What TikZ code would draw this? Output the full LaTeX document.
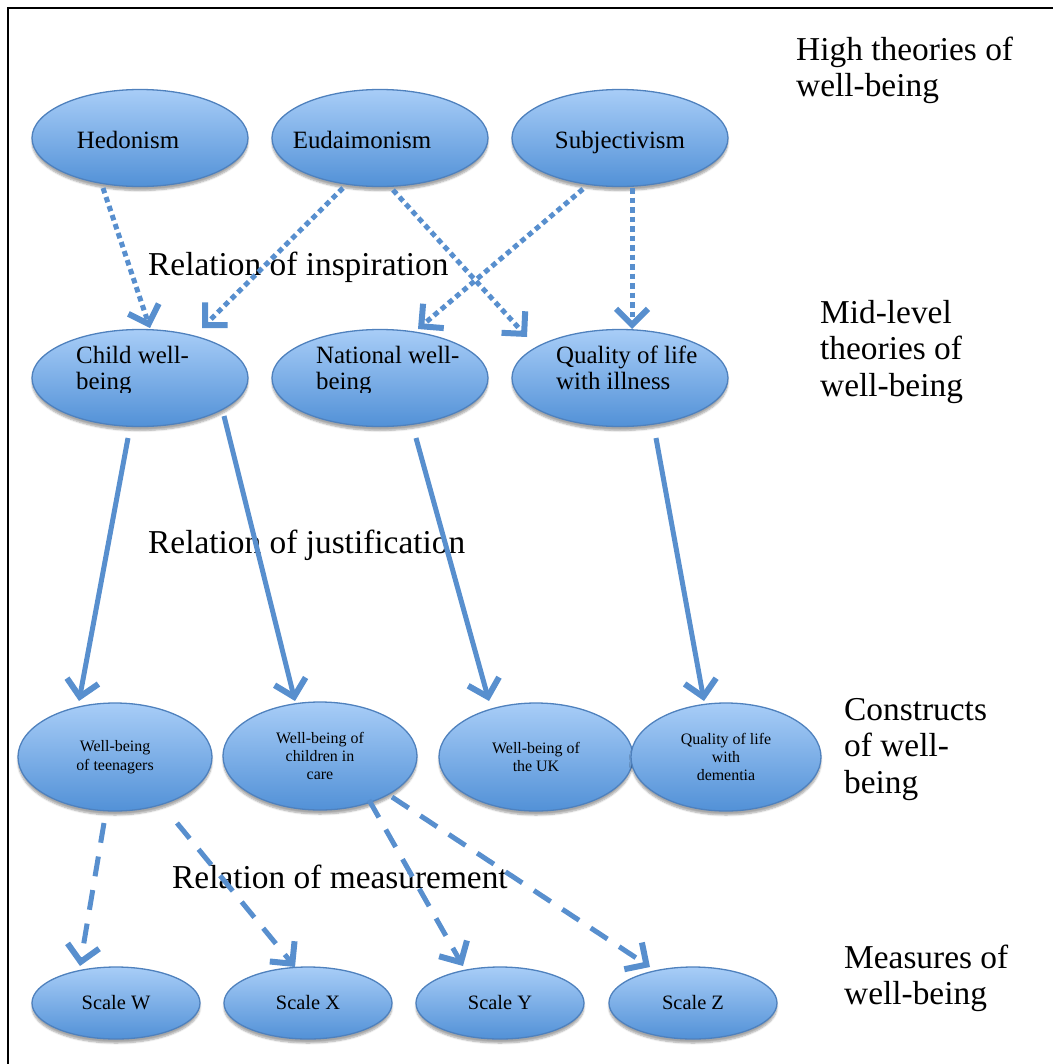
\documentclass[tikz,border=0pt]{standalone}
\usepackage{fontspec}
\setmainfont{Liberation Serif}
\usetikzlibrary{arrows.meta,calc,shapes.geometric,shadows.blur}
\definecolor{arr}{RGB}{88,143,206}
\definecolor{elltop}{RGB}{168,205,247}
\definecolor{ellbot}{RGB}{82,145,215}
\definecolor{elldraw}{RGB}{79,129,189}
\tikzset{
  bubble/.style={ellipse, draw=elldraw, line width=1.3bp, top color=elltop, bottom color=ellbot,
    inner sep=0pt, outer sep=0pt,
    blur shadow={shadow xshift=0bp, shadow yshift=-4bp, shadow opacity=35, shadow blur steps=6}},
  theory/.style={bubble, minimum width=216bp, minimum height=97bp},
  construct/.style={bubble, minimum width=194bp, minimum height=108bp, align=center,
    font=\fontsize{16}{18.5}\selectfont},
  scalebox/.style={bubble, minimum width=168bp, minimum height=72bp, font=\fontsize{20.5}{24}\selectfont},
  ntext/.style={inner sep=0pt, font=\fontsize{25}{27}\selectfont},
  lab/.style={inner sep=0pt, anchor=base west, font=\fontsize{33.5}{37}\selectfont},
  conn/.style={draw=arr, line width=5bp, -{Straight Barb[length=16bp,width=32bp,line width=6bp 0]}},
  dotconn/.style={conn, dash pattern=on 5.5bp off 4bp},
  solidconn/.style={conn},
  dashconn/.style={conn, dash pattern=on 20bp off 14bp},
}
\begin{document}
\begin{tikzpicture}[x=1bp,y=-1bp]
\useasboundingbox (0,0) rectangle (1053,1064);
\draw[line width=2.5bp] (8,1064) -- (8,8) -- (1053,8);

% high theories
\node[theory] (hed) at (140,138) {};
\node[theory] (eud) at (380,138) {};
\node[theory] (subj) at (620,138) {};
\node[ntext, anchor=base] (hedT) at (128,148) {Hedonism};
\node[ntext, anchor=base] (eudT) at (362,148) {Eudaimonism};
\node[ntext, anchor=base] (subjT) at (620,148) {Subjectivism};

% mid-level theories
\node[theory] (child) at (140,378) {};
\node[theory] (nat) at (380,378) {};
\node[theory] (qual) at (620,378) {};
\begin{scope}
\clip (0,300) rectangle (1053,392);
\node[ntext, anchor=base west] (childT) at (76,363) {\begin{tabular}[t]{@{}l@{}}Child well-\\being\end{tabular}};
\node[ntext, anchor=base west] (natT) at (316,363) {\begin{tabular}[t]{@{}l@{}}National well-\\being\end{tabular}};
\node[ntext, anchor=base west] (qualT) at (556,363) {\begin{tabular}[t]{@{}l@{}}Quality of life\\with illness\end{tabular}};
\end{scope}

% constructs
\node[construct] (teen) at (115,757) {Well-being\\of teenagers};
\node[construct] (care) at (320,756) {Well-being of\\children in\\care};
\node[construct] (uk) at (536,757) {Well-being of\\the UK};
\node[construct, minimum width=190bp] (dem) at (726,757) {Quality of life\\with\\dementia};

% measures
\node[scalebox] (sw) at (116,1003) {Scale W};
\node[scalebox] (sx) at (308,1003) {Scale X};
\node[scalebox] (sy) at (500,1003) {Scale Y};
\node[scalebox] (sz) at (693,1003) {Scale Z};

% level labels
\node[lab] (L1) at (796,60) {\begin{tabular}[t]{@{}l@{}}High theories of\\well-being\end{tabular}};
\node[lab] (L2) at (820,323) {\begin{tabular}[t]{@{}l@{}}Mid-level\\theories of\\well-being\end{tabular}};
\node[lab] (L3) at (844,720) {\begin{tabular}[t]{@{}l@{}}Constructs\\of well-\\being\end{tabular}};
\node[lab] (L4) at (844,968) {\begin{tabular}[t]{@{}l@{}}Measures of\\well-being\end{tabular}};

% relation labels
\node[lab] (R1) at (148,275) {Relation of inspiration};
\node[lab] (R2) at (148,553) {Relation of justification};
\node[lab] (R3) at (172,888) {Relation of measurement};

% inspiration (dotted)
\draw[dotconn] ($(hed)+(-37,50)$) -- ($(child)+(10,-50)$);
\draw[dotconn] ($(eud)+(-37,50)$) -- ($(child)+(62,-50)$);
\draw[dotconn] ($(eud)+(13,52)$) -- ($(qual)+(-93,-41)$);
\draw[dotconn] ($(subj)+(-37,51)$) -- ($(nat)+(38,-49)$);
\draw[dotconn] ($(subj)+(12,50)$) -- ($(qual)+(12,-49)$);

% justification (solid)
\draw[solidconn] ($(child)+(-12,60)$) -- ($(teen)+(-36,-56)$);
\draw[solidconn] ($(child)+(84,38)$) -- ($(care)+(-25,-55)$);
\draw[solidconn] ($(nat)+(36,60)$) -- ($(uk)+(-47,-56)$);
\draw[solidconn] ($(qual)+(36,60)$) -- ($(dem)+(-22,-56)$);

% measurement (dashed)
\draw[dashconn] ($(teen)+(-11,66)$) -- ($(sw)+(-36,-37)$);
\draw[dashconn] ($(teen)+(62,66)$) -- ($(sx)+(-13,-36)$);
\draw[dashconn] ($(care)+(49,44)$) -- ($(sy)+(-37,-37)$);
\draw[dashconn] ($(care)+(72,41)$) -- ($(sz)+(-43,-36)$);
\end{tikzpicture}
\end{document}
